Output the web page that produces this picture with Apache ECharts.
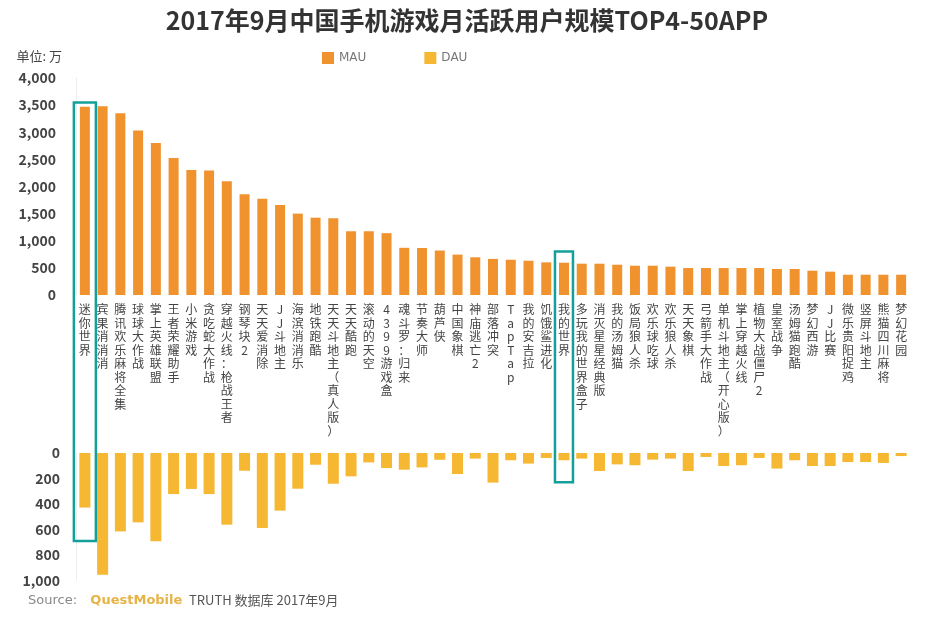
<!DOCTYPE html>
<html>
<head>
<meta charset="utf-8">
<script src="https://cdn.jsdelivr.net/npm/echarts@6/dist/echarts.min.js"></script>
<style>
html,body{margin:0;padding:0;background:#fff;}
#main{width:934px;height:618px;}
</style>
</head>
<body>
<div id="main"></div>
<script>
var categories = ['迷你世界','宾果消消消','腾讯欢乐麻将全集','球球大作战','掌上英雄联盟','王者荣耀助手','小米游戏','贪吃蛇大作战','穿越火线：枪战王者','钢琴块2','天天爱消除','JJ斗地主','海滨消消乐','地铁跑酷','天天斗地主（真人版）','天天酷跑','滚动的天空','4399游戏盒','魂斗罗：归来','节奏大师','葫芦侠','中国象棋','神庙逃亡2','部落冲突','TapTap','我的安吉拉','饥饿鲨进化','我的世界','多玩我的世界盒子','消灭星星经典版','我的汤姆猫','饭局狼人杀','欢乐球吃球','欢乐狼人杀','天天象棋','弓箭手大作战','单机斗地主（开心版）','掌上穿越火线','植物大战僵尸2','皇室战争','汤姆猫跑酷','梦幻西游','JJ比赛','微乐贵阳捉鸡','竖屏斗地主','熊猫四川麻将','梦幻花园'];
var mauValues = [3470,3480,3350,3030,2800,2525,2305,2295,2095,1855,1775,1660,1500,1425,1415,1175,1175,1140,870,866,820,745,695,665,650,632,602,595,577,577,558,540,540,522,497,497,497,497,497,479,479,448,430,374,374,374,374];
var dauValues = [428,955,615,544,693,322,282,322,562,139,588,452,280,92,241,183,74,118,131,113,53,165,44,232,57,83,39,57,44,141,89,96,52,44,141,31,102,96,39,122,57,102,102,71,71,78,24];
var mauTicks = [0,500,1000,1500,2000,2500,3000,3500,4000];
var dauTicks = [0,200,400,600,800,1000];
var highlights = [
  {cat:'迷你世界', mauTop:3550, dauBottom:690, width:22},
  {cat:'我的世界', mauTop:800, dauBottom:230, width:18}
];

var chart = echarts.init(document.getElementById('main'));
var fmt = function(v){ return Number(v).toLocaleString('en-US'); };
var vertical = function(s){ return s.split('').join('\n'); };
var FONT = '"Noto Sans CJK SC","Noto Sans",sans-serif';

var sourceText = {type:'text', id:'source', left:28, top:594,
  style:{text:'{a|Source:}    {b|QuestMobile}  {c|TRUTH 数据库 2017年9月}',
    rich:{
      a:{fill:'#888888', fontSize:13, fontFamily:'"DejaVu Sans",sans-serif'},
      b:{fill:'#e6b346', fontSize:13, fontWeight:'bold', fontFamily:'"DejaVu Sans",sans-serif'},
      c:{fill:'#555555', fontSize:13, fontFamily:FONT}
    }}};

chart.setOption({
  backgroundColor:'#ffffff',
  animation:false,
  textStyle:{fontFamily:FONT},
  title:{
    text:'2017年9月中国手机游戏月活跃用户规模TOP4-50APP',
    left:'center', top:3,
    textStyle:{fontSize:25,fontWeight:'bold',color:'#333333',fontFamily:FONT}
  },
  legend:{
    top:47, left:317,
    itemWidth:12, itemHeight:12, itemGap:58,
    icon:'rect',
    textStyle:{color:'#777777',fontSize:12,fontFamily:'"DejaVu Sans",sans-serif'},
    data:['MAU','DAU']
  },
  grid:[
    {left:76, right:24, top:78, height:217},
    {left:76, right:24, top:453, height:127.5}
  ],
  xAxis:[
    {type:'category', gridIndex:0, data:categories,
     axisLine:{show:false}, axisTick:{show:false},
     axisLabel:{interval:0, margin:8, fontSize:12, lineHeight:13.5, color:'#444444', verticalAlign:'top',
       formatter:function(v){ return vertical(v); }}},
    {type:'category', gridIndex:1, data:categories,
     axisLine:{show:false}, axisTick:{show:false}, axisLabel:{show:false}}
  ],
  yAxis:[
    {type:'value', gridIndex:0, min:0, max:4000, interval:500,
     name:'单位: 万', nameLocation:'end', nameGap:15,
     nameTextStyle:{color:'#444444', fontSize:13, align:'right', padding:[0,14,0,0]},
     axisLine:{show:true, lineStyle:{color:'#eeeeee'}}, axisTick:{show:false},
     splitLine:{show:false},
     axisLabel:{color:'#444444', fontSize:14, fontWeight:'bold', margin:20, formatter:fmt}},
    {type:'value', gridIndex:1, min:0, max:1000, interval:200, inverse:true,
     axisLine:{show:true, lineStyle:{color:'#eeeeee'}}, axisTick:{show:false},
     splitLine:{show:false},
     axisLabel:{color:'#444444', fontSize:14, fontWeight:'bold', margin:16, formatter:fmt}}
  ],
  series:[
    {name:'MAU', type:'bar', xAxisIndex:0, yAxisIndex:0, data:mauValues, barWidth:10,
     itemStyle:{color:'#f0922e'}},
    {name:'DAU', type:'bar', xAxisIndex:1, yAxisIndex:1, data:dauValues, barWidth:11,
     itemStyle:{color:'#f6b733'}}
  ],
  graphic:[sourceText]
});

var boxes = highlights.map(function(h, i){
  var x = chart.convertToPixel({xAxisIndex:0}, h.cat);
  var yTop = chart.convertToPixel({yAxisIndex:0}, h.mauTop);
  var yBot = chart.convertToPixel({yAxisIndex:1}, h.dauBottom);
  return {type:'rect', id:'box' + i, shape:{x:x - h.width/2, y:yTop, width:h.width, height:yBot - yTop},
    style:{fill:'none', stroke:'#14a09a', lineWidth:2.5}, z:100};
});
chart.setOption({graphic: [sourceText].concat(boxes)});
</script>
</body>
</html>
